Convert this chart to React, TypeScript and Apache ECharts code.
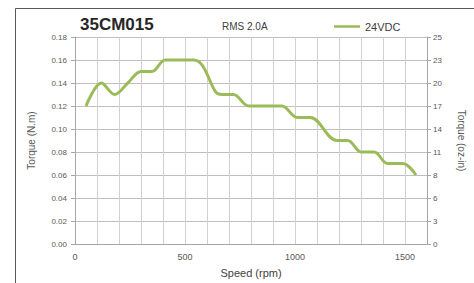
import React, { useEffect, useRef } from "react";
import * as echarts from "echarts";

const speedRpm = [50, 120, 180, 240, 300, 350, 410, 540, 580, 640, 670, 720, 790, 940, 1010, 1070, 1190, 1240, 1300, 1360, 1420, 1490, 1550];
const torqueNm = [0.12, 0.14, 0.13, 0.14, 0.15, 0.15, 0.16, 0.16, 0.155, 0.132, 0.13, 0.13, 0.12, 0.12, 0.11, 0.11, 0.09, 0.09, 0.08, 0.08, 0.07, 0.07, 0.06];
const ozInLabels = ["0", "3", "6", "8", "11", "14", "17", "20", "23", "25"];
const xLabelTicks = [0, 500, 1000, 1500];
const seriesName = "24VDC";
const chartTitle = "35CM015";
const subTitle = "RMS 2.0A";

export default function App() {
  const ref = useRef<HTMLDivElement>(null);
  useEffect(() => {
    if (!ref.current) return;
    const chart = echarts.init(ref.current, null, { renderer: "svg" });
    const font = "Liberation Sans";
    const labelColor = "#595959";
    chart.setOption({
      animation: false,
      backgroundColor: "#ffffff",
      textStyle: { fontFamily: font },
      title: [
        { text: chartTitle, left: 80, top: 16, padding: 0, textStyle: { fontSize: 17, fontWeight: "bold", color: "#262626", fontFamily: font } },
        { text: subTitle, left: 222, top: 21, padding: 0, textStyle: { fontSize: 10, fontWeight: "normal", color: "#404040", fontFamily: font } },
      ],
      legend: {
        left: 334, top: 21, padding: 0, itemWidth: 26, itemHeight: 10, itemGap: 3,
        textStyle: { fontSize: 11, color: "#404040", fontFamily: font },
        data: [{ name: seriesName, icon: "path://M0,4L26,4L26,6.5L0,6.5Z" }],
      },
      grid: { left: 75, right: 47, top: 37, bottom: 38 },
      xAxis: {
        type: "value", min: 0, max: 1600, interval: 100,
        name: "Speed (rpm)", nameLocation: "middle", nameGap: 23,
        nameTextStyle: { fontSize: 11, color: "#404040" },
        axisLine: { show: true, lineStyle: { color: "#a6a6a6" } },
        axisTick: { show: false },
        axisLabel: {
          fontSize: 9, color: labelColor, margin: 8,
          formatter: (v: number) => (xLabelTicks.includes(v) ? String(v) : ""),
        },
        splitLine: { show: true, lineStyle: { color: "#d0d0d0", width: 1 } },
      },
      yAxis: [
        {
          type: "value", min: 0, max: 0.18, interval: 0.02, position: "left",
          name: "Torque (N.m)", nameLocation: "middle", nameGap: 39, nameRotate: 90,
          nameTextStyle: { fontSize: 10, color: labelColor },
          axisLine: { show: true, lineStyle: { color: "#a6a6a6" } },
          axisTick: { show: true, length: 4, lineStyle: { color: "#a6a6a6" } },
          axisLabel: { fontSize: 8, color: labelColor, margin: 8, formatter: (v: number) => v.toFixed(2) },
          splitLine: { show: true, lineStyle: { color: "#bfbfbf", width: 1 } },
        },
        {
          type: "value", min: 0, max: 0.18, interval: 0.02, position: "right",
          name: "Torque (oz-in)", nameLocation: "middle", nameGap: 29, nameRotate: -90,
          nameTextStyle: { fontSize: 10, color: labelColor },
          axisLine: { show: true, lineStyle: { color: "#a6a6a6" } },
          axisTick: { show: true, length: 4, lineStyle: { color: "#a6a6a6" } },
          axisLabel: {
            fontSize: 8, color: labelColor, margin: 6,
            formatter: (v: number) => ozInLabels[Math.round(v / 0.02)] ?? "",
          },
          splitLine: { show: false },
        },
      ],
      series: [
        {
          name: seriesName, type: "line", yAxisIndex: 0,
          data: speedRpm.map((s, i) => [s, torqueNm[i]]),
          smooth: 0.35, showSymbol: false,
          lineStyle: { color: "#9bbb59", width: 3 },
          itemStyle: { color: "#9bbb59" },
        },
      ],
      graphic: [
        {
          type: "polyline", silent: true,
          shape: { points: [[15.5, 283], [15.5, 8.5], [474, 8.5]] },
          style: { stroke: "#595959", lineWidth: 1, fill: "none" },
        },
      ],
    });
    return () => chart.dispose();
  }, []);
  return <div ref={ref} style={{ position: "fixed", left: 0, top: 0, width: 474, height: 283 }} />;
}
